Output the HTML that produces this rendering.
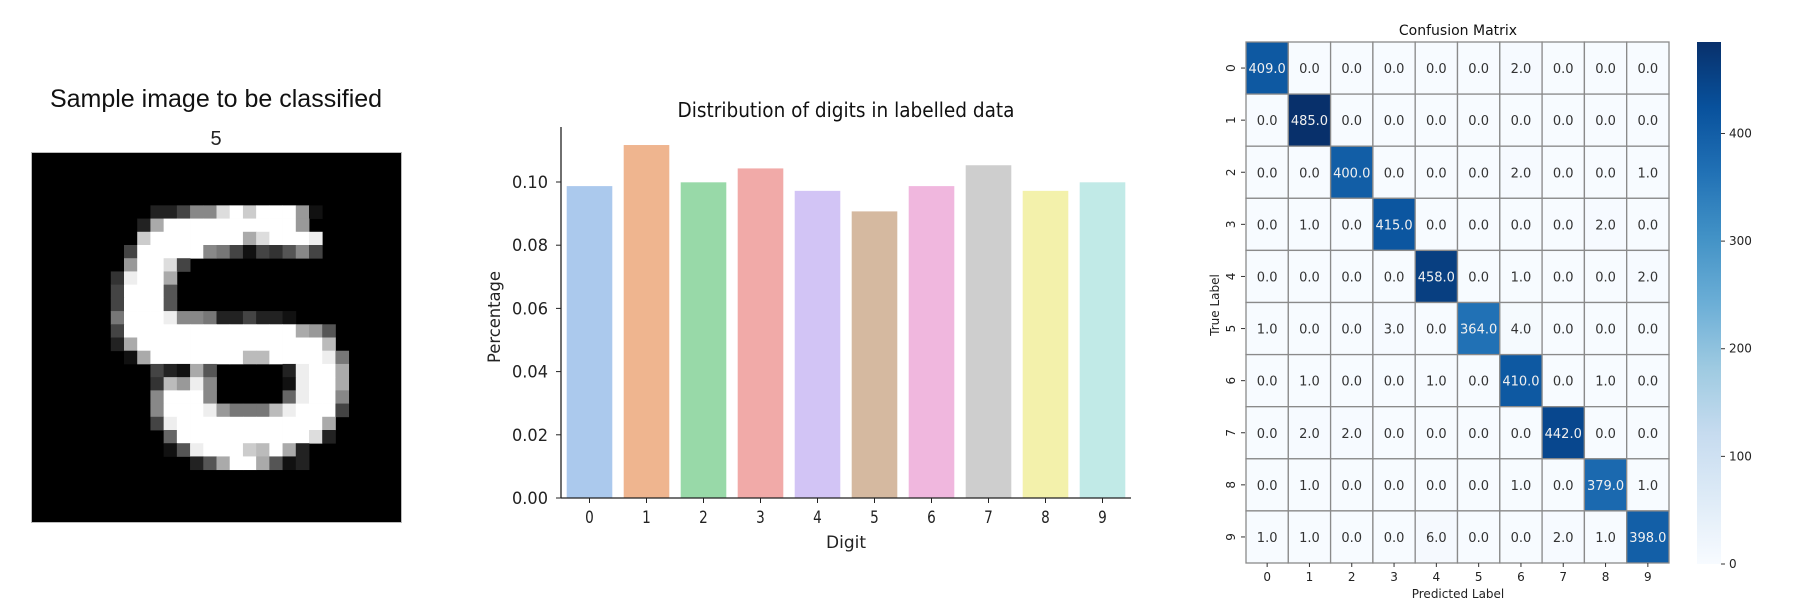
<!DOCTYPE html>
<html><head><meta charset="utf-8">
<style>
html,body{margin:0;padding:0;background:#fff;}
svg{display:block;font-family:"DejaVu Sans","Liberation Sans",sans-serif;}
</style></head>
<body>
<svg id="root" width="1809" height="602" viewBox="0 0 1809 602" xmlns="http://www.w3.org/2000/svg">
  <g id="left">
    <text x="216" y="107" font-size="25" text-anchor="middle" font-family="Liberation Sans, sans-serif" fill="#111">Sample image to be classified</text>
    <text x="216" y="145" font-size="20" text-anchor="middle" font-family="Liberation Sans, sans-serif" fill="#222">5</text>
    <rect x="31.5" y="152.5" width="370" height="370" fill="#000" stroke="#bbb" stroke-width="1"/>
    <g id="digit"></g>
  </g>
  <g id="bar"></g>
  <g id="cm"></g>
</svg>
<script>
// ---------- Bar chart data ----------
const digits = ["0","1","2","3","4","5","6","7","8","9"];
const shares = [0.0987,0.1117,0.0999,0.1043,0.0972,0.0907,0.0987,0.1053,0.0972,0.0999];
const barTicks = [0.00,0.02,0.04,0.06,0.08,0.10];
const barTickLabels = ["0.00","0.02","0.04","0.06","0.08","0.10"];
const barColors = ["#abc9ed","#efb58f","#98d9a8","#f1aaa8","#d2c4f5","#d5b9a0","#f0b7de","#cecece","#f3f1ab","#c1eae7"];

// ---------- Confusion matrix data ----------
const cmLabels = ["0","1","2","3","4","5","6","7","8","9"];
const cmRow0 = [409,0,0,0,0,0,2,0,0,0];
const cmRow1 = [0,485,0,0,0,0,0,0,0,0];
const cmRow2 = [0,0,400,0,0,0,2,0,0,1];
const cmRow3 = [0,1,0,415,0,0,0,0,2,0];
const cmRow4 = [0,0,0,0,458,0,1,0,0,2];
const cmRow5 = [1,0,0,3,0,364,4,0,0,0];
const cmRow6 = [0,1,0,0,1,0,410,0,1,0];
const cmRow7 = [0,2,2,0,0,0,0,442,0,0];
const cmRow8 = [0,1,0,0,0,0,1,0,379,1];
const cmRow9 = [1,1,0,0,6,0,0,2,1,398];
const cbTicks = [0,100,200,300,400];

const NS = "http://www.w3.org/2000/svg";
function mk(tag, attrs, parent){ const e=document.createElementNS(NS,tag); for(const k in attrs) e.setAttribute(k,attrs[k]); parent.appendChild(e); return e; }

// ---------- Digit image ----------
const Z = n => "0".repeat(n), F = n => "f".repeat(n);
const pix = [];
for(let i=0;i<4;i++) pix.push(Z(28));
pix.push(Z(9)+"2248"+"8dfc"+"fff9"+"1"+Z(6));
pix.push(Z(8)+"2a"+F(10)+"9"+Z(7));
pix.push(Z(8)+"c"+F(7)+"ad"+F(3)+"e"+Z(6));
pix.push(Z(7)+"4"+F(5)+"874143584"+Z(6));
pix.push(Z(7)+"9ffd4"+Z(16));
pix.push(Z(6)+"3effa"+Z(17));
pix.push(Z(6)+"4fff5"+Z(17));
pix.push(Z(6)+"4fff5"+Z(17));
pix.push(Z(6)+"7fff"+"e887224221"+Z(8));
pix.push(Z(6)+"4"+F(13)+"a95"+Z(5));
pix.push(Z(6)+"2a"+F(14)+"b"+Z(5));
pix.push(Z(7)+"1a"+F(7)+"bb"+F(4)+"e7"+Z(4));
pix.push(Z(9)+"421a5"+Z(5)+"2effa"+Z(4));
pix.push(Z(9)+"3b9e8"+Z(5)+"1effa"+Z(4));
pix.push(Z(9)+"8fff8"+Z(5)+"6eff8"+Z(4));
pix.push(Z(9)+"8fffe977 7be".replace(" ","")+"fff4"+Z(4));
pix.push(Z(9)+"4e"+F(11)+"a"+Z(5));
pix.push(Z(10)+"6"+F(10)+"d2"+Z(5));
pix.push(Z(10)+"15efffcbfa2"+Z(7));
pix.push(Z(12)+"25affa5120"+Z(6));
while(pix.length<28) pix.push(Z(28));
const dg = document.getElementById("digit");
const cs = 370/28;
pix.forEach((row,r)=>{
  for(let c=0;c<28;c++){
    const v = parseInt(row[c]||"0",16);
    if(!v) continue;
    const g = Math.round(v*17);
    const p = mk("rect",{x:(31.5+c*cs).toFixed(2),y:(152.5+r*cs).toFixed(2),width:(cs+0.4).toFixed(2),height:(cs+0.4).toFixed(2),fill:`rgb(${g},${g},${g})`},dg);
    
    
  }
});

// ---------- Bar chart ----------
const bg = document.getElementById("bar");
const bx0 = 561, step = 57, by0 = 498, yScale = 3160; // px per unit
const xPos = i => bx0 + step*(i+0.5);
const yPos = v => by0 - v*yScale;
digits.forEach((d,i)=>{
  const w = step*0.8;
  const b = mk("rect",{x:xPos(i)-w/2,y:yPos(shares[i]),width:w,height:by0-yPos(shares[i]),fill:barColors[i]},bg);
  
  
  const t = mk("line",{x1:xPos(i),x2:xPos(i),y1:by0,y2:by0+5,stroke:"#222","stroke-width":1},bg);
  
  
  const tl = mk("text",{x:xPos(i),y:523,"font-size":17,"text-anchor":"middle",fill:"#222",transform:`translate(${xPos(i)},0) scale(0.8,1) translate(${-xPos(i)},0)`},bg);
  tl.textContent = d;
  
  
});
barTicks.forEach((v,i)=>{
  const t = mk("line",{x1:bx0-5,x2:bx0,y1:yPos(v),y2:yPos(v),stroke:"#222","stroke-width":1},bg);
  
  
  const tl = mk("text",{x:548,y:yPos(v)+6,"font-size":17,"text-anchor":"end",fill:"#222",textLength:36,lengthAdjust:"spacingAndGlyphs"},bg);
  tl.textContent = barTickLabels[i];
  
  
});
const ya = mk("line",{x1:bx0,x2:bx0,y1:127,y2:by0,stroke:"#222","stroke-width":1.3},bg);


const xa = mk("line",{x1:bx0,x2:1131,y1:by0,y2:by0,stroke:"#222","stroke-width":1.3},bg);


const bt = mk("text",{x:846,y:117,"font-size":20,"text-anchor":"middle",fill:"#111",textLength:337,lengthAdjust:"spacingAndGlyphs"},bg);
bt.textContent = "Distribution of digits in labelled data";


const yl = mk("text",{x:0,y:0,"font-size":17,"text-anchor":"middle",fill:"#222",transform:"translate(500,317) rotate(-90)",textLength:92,lengthAdjust:"spacingAndGlyphs"},bg);
yl.textContent = "Percentage";


const xl = mk("text",{x:846,y:548,"font-size":17,"text-anchor":"middle",fill:"#222",textLength:40,lengthAdjust:"spacingAndGlyphs"},bg);
xl.textContent = "Digit";



// ---------- Confusion matrix ----------
const cg = document.getElementById("cm");
const cmRows = [cmRow0,cmRow1,cmRow2,cmRow3,cmRow4,cmRow5,cmRow6,cmRow7,cmRow8,cmRow9];
const vmax = Math.max(...cmRows.flat());
const stops = ["#f7fbff","#deebf7","#c6dbef","#9ecae1","#6baed6","#4292c6","#2171b5","#08519c","#08306b"];
function hex(h){return [1,3,5].map(i=>parseInt(h.substr(i,2),16));}
function blues(t){
  t=Math.max(0,Math.min(1,t)); const f=t*8, i=Math.min(7,Math.floor(f)), u=f-i;
  const a=hex(stops[i]), b=hex(stops[i+1]);
  return `rgb(${a.map((v,k)=>Math.round(v+(b[k]-v)*u)).join(",")})`;
}
const cx0=1246, cy0=42, cw=42.3, ch=52.1;
const colX = j => cx0 + j*cw;
const rowY = i => cy0 + i*ch;
cmRows.forEach((row,i)=>{
  row.forEach((v,j)=>{
    const r = mk("rect",{x:colX(j),y:rowY(i),width:cw,height:ch,fill:blues(v/vmax),stroke:"#8a8a8a","stroke-width":1.3},cg);
    
    
    const t = mk("text",{x:colX(j)+cw/2,y:rowY(i)+ch/2+5,"font-size":13,"text-anchor":"middle",fill:(v/vmax>0.5?"#f0f0f0":"#333")},cg);
    t.textContent = v.toFixed(1);
    
    
  });
});
cmLabels.forEach((l,k)=>{
  const xt = mk("text",{x:colX(k)+cw/2,y:581,"font-size":12,"text-anchor":"middle",fill:"#222"},cg);
  xt.textContent = l;
  
  
  const xtk = mk("line",{x1:colX(k)+cw/2,x2:colX(k)+cw/2,y1:563,y2:567,stroke:"#333"},cg);
  
  
  const yc = rowY(k)+ch/2;
  const yt = mk("text",{x:0,y:0,"font-size":12,"text-anchor":"middle",fill:"#222",transform:`translate(1235,${yc}) rotate(-90)`},cg);
  yt.textContent = l;
  
  
  const ytk = mk("line",{x1:1241,x2:1245,y1:yc,y2:yc,stroke:"#333"},cg);
  
  
});
const ct = mk("text",{x:1458,y:35,"font-size":14,"text-anchor":"middle",fill:"#111"},cg);
ct.textContent = "Confusion Matrix";


const cxl = mk("text",{x:1458,y:598,"font-size":12,"text-anchor":"middle",fill:"#222"},cg);
cxl.textContent = "Predicted Label";


const cyl = mk("text",{x:0,y:0,"font-size":12,"text-anchor":"middle",fill:"#222",transform:"translate(1219,305) rotate(-90)"},cg);
cyl.textContent = "True Label";


// colorbar
const cbX=1697, cbW=24, cbTop=42, cbBot=564;
const cbY = v => cbBot - v/vmax*(cbBot-cbTop);
const defs = mk("defs",{},cg);
const grad = mk("linearGradient",{id:"cbg",x1:0,y1:1,x2:0,y2:0},defs);
for(let k=0;k<=16;k++) mk("stop",{offset:k/16,"stop-color":blues(k/16)},grad);
const cb = mk("rect",{x:cbX,y:cbTop,width:cbW,height:cbBot-cbTop,fill:"url(#cbg)"},cg);


cbTicks.forEach(v=>{
  const tk = mk("line",{x1:cbX+cbW,x2:cbX+cbW+4,y1:cbY(v),y2:cbY(v),stroke:"#333"},cg);
  
  
  const tl = mk("text",{x:cbX+cbW+8,y:cbY(v)+4,"font-size":12,fill:"#222"},cg);
  tl.textContent = String(v);
  
  
});
</script>
</body></html>
